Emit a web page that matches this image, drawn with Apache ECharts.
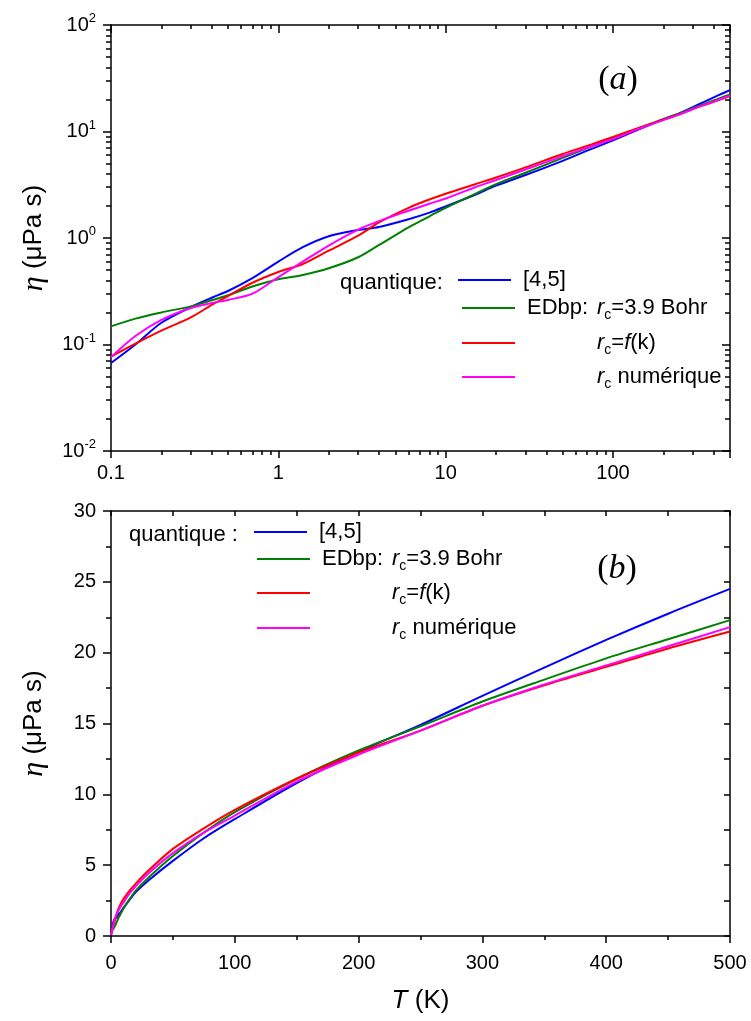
<!DOCTYPE html>
<html><head><meta charset="utf-8">
<script src="https://cdn.jsdelivr.net/npm/echarts@6/dist/echarts.min.js"></script>
<style>html,body{margin:0;padding:0;background:#fff}#c{width:751px;height:1021px}</style>
</head><body><div id="c"></div>
<script>
// Temperature grid (K)
const T = [0.1, 0.14, 0.2, 0.3, 0.4, 0.5, 0.7, 1, 1.4, 2, 3, 4, 6, 8, 10, 15, 20, 30, 50, 75, 100, 150, 200, 250, 300, 350, 400, 450, 500];
// viscosity eta (µPa s)
const etaQuant45 = [0.067, 0.100, 0.160, 0.225, 0.275, 0.318, 0.42, 0.60, 0.82, 1.04, 1.19, 1.27, 1.50, 1.73, 1.98, 2.55, 3.10, 3.90, 5.30, 6.90, 8.25, 10.8, 13.0, 14.9, 16.95, 18.95, 20.9, 22.75, 24.5];
const etaEDbp39  = [0.148, 0.175, 0.200, 0.228, 0.260, 0.290, 0.35, 0.41, 0.45, 0.52, 0.66, 0.86, 1.26, 1.60, 1.92, 2.60, 3.20, 4.10, 5.65, 7.30, 8.75, 11.1, 13.1, 14.8, 16.55, 18.1, 19.6, 20.95, 22.3];
const etaRcFk    = [0.077, 0.102, 0.135, 0.180, 0.235, 0.285, 0.38, 0.48, 0.57, 0.76, 1.05, 1.40, 1.92, 2.30, 2.60, 3.20, 3.70, 4.60, 6.15, 7.60, 8.90, 11.1, 12.95, 14.5, 16.25, 17.7, 19.0, 20.3, 21.5];
const etaRcNum   = [0.076, 0.120, 0.170, 0.220, 0.245, 0.262, 0.30, 0.43, 0.60, 0.85, 1.20, 1.44, 1.80, 2.10, 2.35, 3.00, 3.50, 4.40, 5.85, 7.30, 8.50, 10.9, 12.8, 14.5, 16.25, 17.75, 19.1, 20.45, 21.8];

const seriesNames = ['q45', 'ed39', 'rcfk', 'rcnum'];
const seriesColors = ['#0000ff', '#008000', '#ff0000', '#ff00ff'];
const seriesData = [etaQuant45, etaEDbp39, etaRcFk, etaRcNum];

// tick labels
const logXLabels = [0.1, 1, 10, 100];
const logYLabels = [0.01, 0.1, 1, 10, 100];

const FONT = 'Liberation Sans';
const BLACK = '#000';
const ls = () => ({ color: BLACK, width: 1.5 });

function logAxis(gridIndex, position, min, max, inside, majorLen, minorLen, label) {
  return {
    type: 'log', logBase: 10, gridIndex, position, min, max,
    axisLine: { show: true, onZero: false, lineStyle: ls() },
    axisTick: { show: true, inside, length: majorLen, lineStyle: ls() },
    minorTick: { show: true, splitNumber: 9, length: minorLen, lineStyle: ls() },
    axisLabel: label || { show: false },
    splitLine: { show: false }, minorSplitLine: { show: false }
  };
}

const yLogLabel = {
  show: true, margin: 15, customValues: logYLabels,
  formatter: v => '{b|10}{e|' + Math.round(Math.log10(v)) + '}',
  rich: {
    b: { fontFamily: FONT, fontSize: 20, color: BLACK, lineHeight: 26 },
    e: { fontFamily: FONT, fontSize: 13, color: BLACK, lineHeight: 26, verticalAlign: 'top' }
  }
};
const xLogLabel = {
  show: true, margin: 12, customValues: logXLabels,
  fontFamily: FONT, fontSize: 20, color: BLACK,
  formatter: v => String(v)
};

const yName = () => ({
  name: '{i|η} (μPa s)', nameLocation: 'middle', nameGap: 62, nameRotate: 90,
  nameTextStyle: { fontFamily: FONT, fontSize: 26, color: BLACK,
    rich: { i: { fontFamily: 'Liberation Serif', fontStyle: 'italic', fontSize: 30, color: BLACK } } }
});

const xAxes = [
  logAxis(0, 'bottom', 0.1, 500, false, 7, 4, xLogLabel),
  logAxis(0, 'top', 0.1, 500, true, 8, 4),
  {
    type: 'value', gridIndex: 1, position: 'bottom', min: 0, max: 500, interval: 100,
    axisLine: { show: true, onZero: false, lineStyle: ls() },
    axisTick: { show: true, inside: false, length: 7, lineStyle: ls() },
    minorTick: { show: true, splitNumber: 2, length: 4, lineStyle: ls() },
    axisLabel: { show: true, margin: 17, fontFamily: FONT, fontSize: 20, color: BLACK },
    splitLine: { show: false },
    name: '{i|T} (K)', nameLocation: 'middle', nameGap: 52,
    nameTextStyle: { fontFamily: FONT, fontSize: 26, color: BLACK,
      rich: { i: { fontFamily: FONT, fontStyle: 'italic', fontSize: 26, color: BLACK } } }
  },
  {
    type: 'value', gridIndex: 1, position: 'top', min: 0, max: 500, interval: 50,
    axisLine: { show: true, onZero: false, lineStyle: ls() },
    axisTick: { show: true, inside: true, length: 5, lineStyle: ls() },
    axisLabel: { show: false }, splitLine: { show: false }
  }
];

const yAxes = [
  Object.assign(logAxis(0, 'left', 0.01, 100, false, 8, 5, yLogLabel), yName()),
  logAxis(0, 'right', 0.01, 100, true, 8, 5),
  Object.assign({
    type: 'value', gridIndex: 1, position: 'left', min: 0, max: 30, interval: 5,
    axisLine: { show: true, onZero: false, lineStyle: ls() },
    axisTick: { show: true, inside: false, length: 8, lineStyle: ls() },
    minorTick: { show: true, splitNumber: 2, length: 5, lineStyle: ls() },
    axisLabel: { show: true, margin: 15, fontFamily: FONT, fontSize: 20, color: BLACK },
    splitLine: { show: false }
  }, yName()),
  {
    type: 'value', gridIndex: 1, position: 'right', min: 0, max: 30, interval: 2.5,
    axisLine: { show: true, onZero: false, lineStyle: ls() },
    axisTick: { show: true, inside: true, length: 6, lineStyle: ls() },
    axisLabel: { show: false }, splitLine: { show: false }
  }
];

const series = [];
[[0, 0], [2, 2]].forEach(([xi, yi]) => {
  seriesNames.forEach((n, k) => {
    series.push({
      type: 'line', name: n, xAxisIndex: xi, yAxisIndex: yi,
      data: T.map((t, i) => [t, seriesData[k][i]]),
      showSymbol: false, smooth: 0.3,
      color: seriesColors[k], lineStyle: { width: 2, color: seriesColors[k] }
    });
  });
});

const legendRich = {
  t: { fontFamily: FONT, fontSize: 22, color: BLACK, lineHeight: 28 },
  ed: { fontFamily: FONT, fontSize: 22, color: BLACK, lineHeight: 28, width: 70 },
  i: { fontFamily: FONT, fontSize: 22, fontStyle: 'italic', color: BLACK, lineHeight: 28 },
  s: { fontFamily: FONT, fontSize: 14, color: BLACK, lineHeight: 28, verticalAlign: 'bottom' },
  sp: { width: 7, lineHeight: 28 },
  pad: { width: 77, lineHeight: 28 }
};
const legendLabels = {
  q45: '{sp| }{t|[4,5]}',
  ed39: '{sp| }{ed|EDbp:}{i|r}{s|c}{t|=3.9 Bohr}',
  rcfk: '{pad| }{i|r}{s|c}{t|=}{i|f}{t|(k)}',
  rcnum: '{pad| }{i|r}{s|c}{t| numérique}'
};
function legendRow(name, left, centerY) {
  return {
    data: [name], left, top: centerY - 14, orient: 'vertical', padding: 0,
    itemWidth: 53, itemHeight: 2, icon: 'rect', selectedMode: false,
    textStyle: { rich: legendRich }, formatter: () => legendLabels[name]
  };
}
const legends = [
  legendRow('q45', 458, 283), legendRow('ed39', 462, 311), legendRow('rcfk', 462, 346), legendRow('rcnum', 462, 380),
  legendRow('q45', 254, 535), legendRow('ed39', 257, 562), legendRow('rcfk', 257, 596), legendRow('rcnum', 257, 631)
];

const panelRich = {
  p: { fontFamily: 'Liberation Serif', fontSize: 34, fill: BLACK },
  i: { fontFamily: 'Liberation Serif', fontSize: 34, fontStyle: 'italic', fill: BLACK }
};
const graphic = [
  { type: 'text', x: 340, y: 283, style: { text: 'quantique:', fontFamily: FONT, fontSize: 22, fill: BLACK, verticalAlign: 'middle' } },
  { type: 'text', x: 129, y: 535, style: { text: 'quantique :', fontFamily: FONT, fontSize: 22, fill: BLACK, verticalAlign: 'middle' } },
  { type: 'text', x: 618, y: 80, style: { text: '{p|(}{i|a}{p|)}', rich: panelRich, align: 'center', verticalAlign: 'middle' } },
  { type: 'text', x: 617, y: 569, style: { text: '{p|(}{i|b}{p|)}', rich: panelRich, align: 'center', verticalAlign: 'middle' } }
];

const chart = echarts.init(document.getElementById('c'));
chart.setOption({
  backgroundColor: '#fff',
  animation: false,
  grid: [{ left: 111, top: 25, width: 619, height: 426 }, { left: 111, top: 511, width: 619, height: 425 }],
  xAxis: xAxes,
  yAxis: yAxes,
  legend: legends,
  graphic,
  series
});
</script>
</body></html>
